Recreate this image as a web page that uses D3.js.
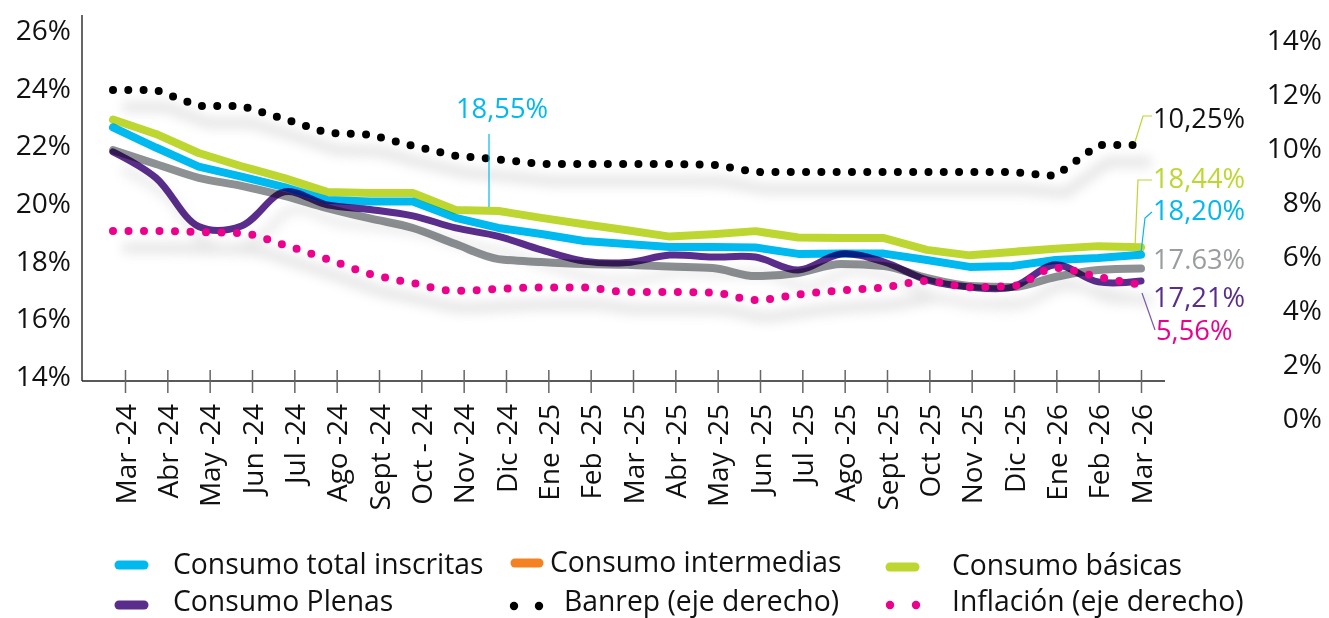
<!DOCTYPE html>
<html>
<head>
<meta charset="utf-8">
<script src="https://cdn.jsdelivr.net/npm/d3@7"></script>
<style>
  html, body { margin: 0; padding: 0; background: #fff; }
  svg { display: block; font-family: "Open Sans", "Noto Sans", sans-serif; }
  .blend { mix-blend-mode: multiply; }
</style>
</head>
<body>
<svg id="chart" width="1329" height="618"></svg>
<script>
// ---- Data ----
const months = ["Mar -24","Abr -24","May -24","Jun -24","Jul -24","Ago -24","Sept -24","Oct - 24","Nov -24","Dic -24",
  "Ene -25","Feb -25","Mar -25","Abr -25","May -25","Jun -25","Jul -25","Ago -25","Sept -25","Oct -25","Nov -25","Dic -25",
  "Ene -26","Feb -26","Mar -26"];

const consumoBasicas = [22.87,22.37,21.71,21.25,20.84,20.36,20.32,20.32,19.73,19.70,19.46,19.24,19.03,18.81,18.89,19.00,18.78,18.76,18.76,18.35,18.16,18.28,18.39,18.48,18.44];
const consumoTotal = [22.60,21.90,21.24,20.89,20.53,20.08,20.03,20.03,19.46,19.11,18.90,18.66,18.55,18.45,18.45,18.43,18.21,18.22,18.22,18.00,17.76,17.79,18.00,18.07,18.18];
const consumoIntermedias = [21.81,21.33,20.85,20.57,20.22,19.80,19.44,19.11,18.55,18.03,17.93,17.86,17.83,17.77,17.72,17.44,17.55,17.86,17.79,17.38,17.10,17.06,17.41,17.65,17.70];
const consumoPlenas = [21.75,20.85,19.16,19.18,20.36,19.91,19.75,19.53,19.11,18.82,18.35,17.96,17.91,18.17,18.10,18.10,17.65,18.21,17.93,17.31,17.06,17.06,17.83,17.24,17.27];
const banrep = [12.11,12.11,11.52,11.52,11.04,10.52,10.46,10.04,9.67,9.54,9.37,9.37,9.37,9.37,9.35,9.07,9.07,9.07,9.07,9.07,9.07,9.07,8.93,10.07,10.07];
const inflacion = [6.89,6.89,6.85,6.81,6.37,5.85,5.30,4.96,4.67,4.74,4.80,4.80,4.63,4.63,4.61,4.33,4.54,4.69,4.80,5.04,4.81,4.85,5.52,5.19,4.89];

const leftTicks = [14,16,18,20,22,24,26];
const rightTicks = [0,2,4,6,8,10,12,14];

const legendItems = [
  {label: "Consumo total inscritas", color: "#00B9EF", type: "line"},
  {label: "Consumo intermedias", color: "#F58220", type: "line"},
  {label: "Consumo básicas", color: "#BED630", type: "line"},
  {label: "Consumo Plenas", color: "#5A2D8C", type: "line"},
  {label: "Banrep (eje derecho)", color: "#000000", type: "dots"},
  {label: "Inflación (eje derecho)", color: "#EC008C", type: "dots"}
];

// ---- Scales ----
const svg = d3.select("#chart");
const xData = d3.scalePoint().domain(months).range([113, 1141]);
const xTick = d3.scalePoint().domain(months).range([125, 1141]);
const yL = d3.scaleLinear().domain([14, 26]).range([375.3, 29.3]);
const yR = d3.scaleLinear().domain([0, 14]).range([417, 39]);

const FS = 28;
const FSL = 28.3;

// shadow filter
const defs = svg.append("defs");
const f = defs.append("filter").attr("id","blur").attr("x","-10%").attr("y","-50%").attr("width","120%").attr("height","200%");
f.append("feGaussianBlur").attr("stdDeviation", 6);

// ---- Axes ----
svg.append("line").attr("x1",82).attr("x2",82).attr("y1",15).attr("y2",381)
  .attr("stroke","#333").attr("stroke-width",1.5);
svg.append("line").attr("x1",82).attr("x2",1165).attr("y1",381).attr("y2",381)
  .attr("stroke","#222").attr("stroke-width",1.5);

const xAxis = d3.axisBottom(xTick).tickSize(12);
const gx = svg.append("g").attr("transform","translate(0,381)").call(xAxis);
gx.select(".domain").remove();
gx.selectAll(".tick line").attr("y1",-11).attr("y2",12).attr("stroke","#666").attr("stroke-width",1.5);
gx.selectAll(".tick text")
  .attr("font-size", FS).attr("font-family","'Open Sans', sans-serif").attr("fill","#111")
  .attr("text-anchor","end").attr("transform","rotate(-90)")
  .attr("x", -23).attr("y", 0).attr("dy","0.36em");

const yAxisL = d3.axisLeft(yL).tickValues(leftTicks).tickFormat(d => d + "%").tickSize(0);
const gyl = svg.append("g").attr("transform","translate(71,0)").call(yAxisL);
gyl.select(".domain").remove();
gyl.selectAll(".tick text").attr("font-size",FS).attr("font-family","'Open Sans', sans-serif").attr("fill","#111").attr("x",0).attr("dy","0.36em");

const yAxisR = d3.axisLeft(yR).tickValues(rightTicks).tickFormat(d => d + "%").tickSize(0);
const gyr = svg.append("g").attr("transform","translate(1322,0)").call(yAxisR);
gyr.select(".domain").remove();
gyr.selectAll(".tick text").attr("font-size",FS).attr("font-family","'Open Sans', sans-serif").attr("fill","#111").attr("x",0).attr("dy","0.36em");

// ---- Lines ----
const lineL = (curve) => d3.line().x((d,i) => xData(months[i])).y(d => yL(d)).curve(curve);
const lineR = (curve) => d3.line().x((d,i) => xData(months[i])).y(d => yR(d)).curve(curve);

// shadows
const sh = svg.append("g").attr("filter","url(#blur)").attr("transform","translate(10,17)").attr("opacity",0.22);
sh.append("path").attr("d", lineR(d3.curveLinear)(banrep)).attr("fill","none").attr("stroke","#777").attr("stroke-width",9);
sh.append("path").attr("d", lineR(d3.curveMonotoneX)(inflacion)).attr("fill","none").attr("stroke","#777").attr("stroke-width",9);
sh.append("path").attr("d", lineL(d3.curveCatmullRom)(consumoPlenas)).attr("fill","none").attr("stroke","#999").attr("stroke-width",8);

const series = [
  {data: consumoIntermedias, color:"#8E9194", w:8, curve:d3.curveMonotoneX},
  {data: consumoBasicas, color:"#BED630", w:8, curve:d3.curveLinear},
  {data: consumoTotal, color:"#00B9EF", w:8, curve:d3.curveLinear},
  {data: consumoPlenas, color:"#5A2D8C", w:7, curve:d3.curveCatmullRom}
];
series.forEach(s => {
  svg.append("path").attr("class","blend")
    .attr("d", lineL(s.curve)(s.data))
    .attr("fill","none").attr("stroke",s.color).attr("stroke-width",s.w)
    .attr("stroke-linecap","round").attr("stroke-linejoin","round");
});

svg.append("path").attr("d", lineR(d3.curveLinear)(banrep))
  .attr("fill","none").attr("stroke","#000").attr("stroke-width",8)
  .attr("stroke-linecap","round").attr("stroke-dasharray","0 15.3");
svg.append("path").attr("d", lineR(d3.curveMonotoneX)(inflacion))
  .attr("fill","none").attr("stroke","#EC008C").attr("stroke-width",8)
  .attr("stroke-linecap","round").attr("stroke-dasharray","0 15.5");

// ---- Annotations ----
const ann = svg.append("g").attr("font-size",27.3).attr("font-family","'Open Sans', sans-serif");
const leader = (pts, color) => ann.append("path").attr("d", d3.line()(pts)).attr("fill","none").attr("stroke",color).attr("stroke-width",1.2);
leader([[489,134],[489,207]], "#00B9EF");
leader([[1135,142],[1143,116],[1152,116]], "#BED630");
leader([[1135,247],[1138,180],[1152,180]], "#BED630");
leader([[1141,253],[1145,218],[1152,212]], "#00B9EF");
leader([[1142,293],[1155,330]], "#7a5aa6");

const annTexts = [
  {t:"18,55%", x:456, y:118, c:"#00B9EF"},
  {t:"10,25%", x:1153, y:128, c:"#111"},
  {t:"18,44%", x:1153, y:188, c:"#BED630"},
  {t:"18,20%", x:1153, y:220, c:"#00B9EF"},
  {t:"17.63%", x:1153, y:269, c:"#9A9DA0"},
  {t:"17,21%", x:1153, y:307, c:"#5A2D8C"},
  {t:"5,56%", x:1156, y:340, c:"#EC008C"}
];
annTexts.forEach(a => ann.append("text").attr("x",a.x).attr("y",a.y).attr("fill",a.c).text(a.t));

// ---- Legend ----
const legPos = [
  {sx:115, ex:148, sy:565, tx:173, ty:574},
  {sx:511, ex:543, sy:563, tx:550, ty:572},
  {sx:886, ex:919, sy:567, tx:952, ty:575},
  {sx:115, ex:148, sy:605, tx:173, ty:611},
  {sx:514, ex:539, sy:606, tx:564, ty:611},
  {sx:890, ex:916, sy:605, tx:952, ty:611}
];
const leg = svg.append("g");
legendItems.forEach((it, i) => {
  const p = legPos[i];
  if (it.type === "line") {
    leg.append("line").attr("x1",p.sx+4).attr("x2",p.ex-4).attr("y1",p.sy).attr("y2",p.sy)
      .attr("stroke",it.color).attr("stroke-width",9).attr("stroke-linecap","round");
  } else {
    [p.sx, p.ex].forEach(cx => leg.append("circle").attr("cx",cx).attr("cy",p.sy).attr("r",4.2).attr("fill",it.color));
  }
  leg.append("text").attr("x",p.tx).attr("y",p.ty).attr("font-size",FSL)
    .attr("font-family","'Open Sans', sans-serif").attr("fill","#111").text(it.label);
});
</script>
</body>
</html>
